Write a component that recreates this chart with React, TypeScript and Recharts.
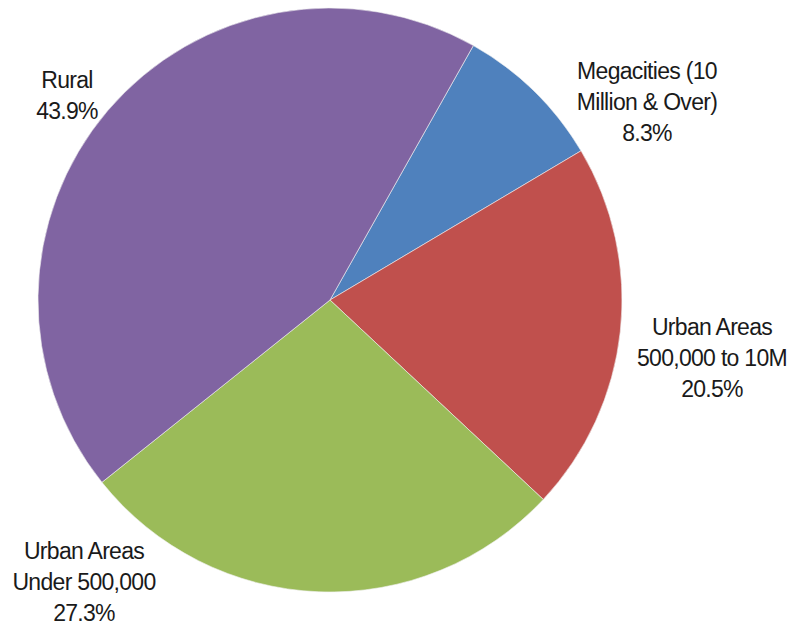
import { PieChart, Pie, Cell } from "recharts";

const categories = [
  ["Megacities (10", "Million & Over)"],
  ["Urban Areas", "500,000 to 10M"],
  ["Urban Areas", "Under 500,000"],
  ["Rural"],
];
const shares = [8.3, 20.5, 27.3, 43.9];
const colors = ["#4F81BD", "#C0504D", "#9BBB59", "#8064A2"];

// label anchor (centre x, first baseline) relative to the pie centre
const labelOffsets = [
  [317, -221],
  [382, 35],
  [-246, 259],
  [-263, -212],
];

const data = shares.map((v, i) => ({ name: categories[i].join(" "), value: v }));

function renderLabel(props: any) {
  const { cx, cy, index } = props;
  const [dx, dy] = labelOffsets[index];
  const lines = [...categories[index], shares[index].toFixed(1) + "%"];
  return (
    <text
      key={"lbl" + index}
      x={cx + dx}
      y={cy + dy}
      textAnchor="middle"
      fill="#1a1a1a"
      fontSize={23}
      letterSpacing={-0.7}
      fontFamily="'Liberation Sans', Arial, sans-serif"
    >
      {lines.map((t, i) => (
        <tspan key={i} x={cx + dx} dy={i === 0 ? 0 : 31}>
          {t}
        </tspan>
      ))}
    </text>
  );
}

export default function App() {
  return (
    <div style={{ position: "absolute", left: 0, top: 0, background: "#fff" }}>
      <PieChart width={797} height={628} margin={{ top: 0, right: 0, bottom: 0, left: 0 }}>
        <Pie
          data={data}
          dataKey="value"
          cx={330}
          cy={300}
          outerRadius={292}
          startAngle={60.6}
          endAngle={-299.4}
          label={renderLabel}
          labelLine={false}
          stroke="#f0f0f0"
          strokeWidth={0.6}
          isAnimationActive={false}
        >
          {data.map((d, i) => (
            <Cell key={d.name} fill={colors[i]} />
          ))}
        </Pie>
      </PieChart>
    </div>
  );
}
